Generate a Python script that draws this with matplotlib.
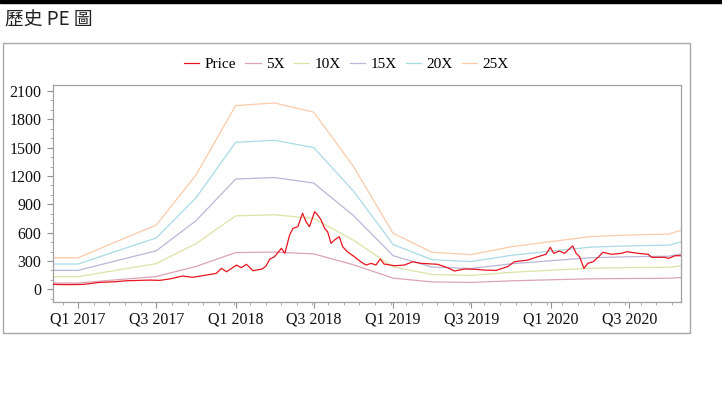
import numpy as np
import pandas as pd
import matplotlib
matplotlib.use("Agg")
import matplotlib.pyplot as plt
import matplotlib.dates as mdates
from matplotlib.ticker import AutoMinorLocator, FixedLocator
from matplotlib.patches import Rectangle

# Price
price_dates = [
    "2016-11-03", "2016-12-01", "2017-01-12", "2017-02-20", "2017-03-27",
    "2017-04-23", "2017-05-24", "2017-06-16", "2017-07-09", "2017-08-01",
    "2017-08-31", "2017-09-23", "2017-10-25", "2017-11-17", "2017-11-29",
    "2017-12-11", "2018-01-03", "2018-01-14", "2018-01-26", "2018-02-10",
    "2018-03-03", "2018-03-12", "2018-03-21", "2018-04-01", "2018-04-17",
    "2018-04-25", "2018-05-06", "2018-05-14", "2018-05-25", "2018-06-05",
    "2018-06-13", "2018-06-21", "2018-07-03", "2018-07-10", "2018-07-18",
    "2018-07-26", "2018-08-02", "2018-08-10", "2018-08-18", "2018-08-29",
    "2018-09-06", "2018-09-17", "2018-10-03", "2018-10-18", "2018-10-30",
    "2018-11-11", "2018-11-22", "2018-12-02", "2018-12-11", "2019-01-04",
    "2019-01-27", "2019-02-15", "2019-03-07", "2019-04-14", "2019-05-07",
    "2019-05-23", "2019-06-15", "2019-07-12", "2019-07-31", "2019-08-27",
    "2019-09-23", "2019-10-09", "2019-11-09", "2019-12-02", "2019-12-21",
    "2019-12-31", "2020-01-08", "2020-01-21", "2020-02-02", "2020-02-21",
    "2020-02-29", "2020-03-08", "2020-03-18", "2020-03-27", "2020-04-08",
    "2020-04-20", "2020-05-01", "2020-05-21", "2020-06-13", "2020-06-25",
    "2020-07-22", "2020-08-14", "2020-08-22", "2020-09-22", "2020-09-30",
    "2020-10-15", "2020-10-29",
]
price_values = [
    53, 50, 52, 74, 80,
    91, 95, 98, 95, 110,
    141, 127, 151, 169, 222,
    186, 257, 229, 265, 197,
    215, 245, 320, 345, 434,
    381, 575, 646, 663, 805,
    716, 663, 822, 787, 734,
    646, 610, 487, 522, 557,
    451, 398, 345, 292, 257,
    275, 257, 321, 268, 250,
    257, 292, 275, 265, 229,
    194, 215, 212, 204, 200,
    240, 292, 310, 345, 371,
    445, 381, 406, 381, 460,
    381, 345, 222, 275, 292,
    339, 392, 371, 381, 398,
    381, 371, 339, 339, 328,
    356, 356,
]

# quarterly EPS used for the PE bands
eps_dates = [
    "2016-11-03", "2017-01-01", "2017-04-01", "2017-07-01", "2017-10-01",
    "2018-01-01", "2018-04-01", "2018-07-01", "2018-10-01", "2019-01-01",
    "2019-04-01", "2019-07-01", "2019-10-01", "2020-01-01", "2020-04-01",
    "2020-07-01", "2020-10-01", "2020-10-29",
]
eps_values = [
    13.4, 13.4, 20.3, 27.2, 48.4,
    77.8, 78.9, 75.0, 52.0, 23.7,
    15.7, 14.7, 18.0, 20.2, 22.3,
    23.0, 23.4, 25.0,
]
multiples = [5, 10, 15, 20, 25]
band_colors = ["#dca3b8", "#dde2a6", "#b9b7d8", "#a9dbe7", "#fbcaa9"]

tick_dates = ["2017-01-01", "2017-07-01", "2018-01-01", "2018-07-01",
              "2019-01-01", "2019-07-01", "2020-01-01", "2020-07-01"]
tick_labels = ["Q1 2017", "Q3 2017", "Q1 2018", "Q3 2018",
               "Q1 2019", "Q3 2019", "Q1 2020", "Q3 2020"]
y_ticks = [0, 300, 600, 900, 1200, 1500, 1800, 2100]

serif = ["Liberation Serif", "DejaVu Serif"]

pd_price = pd.to_datetime(price_dates)
pd_eps = pd.to_datetime(eps_dates)
eps = np.array(eps_values)

fig = plt.figure(figsize=(7.22, 3.97), dpi=100)

# black bar on top and the title
fig.patches.append(Rectangle((0, 1 - 3.3 / 397), 1, 3.3 / 397,
                             transform=fig.transFigure, color="black", zorder=0))
fig.text(5 / 722, 1 - 20 / 397, "歷史 PE 圖", fontsize=13.5, va="center", ha="left",
         family=["Noto Sans CJK TC", "DejaVu Sans"], color="#222222")

# outer frame
fig.patches.append(Rectangle((3 / 722, 1 - 333 / 397), 687 / 722, 290 / 397,
                             transform=fig.transFigure, fill=False,
                             edgecolor="#a8a8a8", linewidth=1.0, zorder=0))

ax = fig.add_axes([52.7 / 722, 1 - 302 / 397, (681 - 52.7) / 722, (302 - 84.7) / 397])

ax.plot(pd_price, price_values, color="#e8141f", linewidth=0.9, label="Price", zorder=5)
for m, c in zip(multiples, band_colors):
    ax.plot(pd_eps, eps * m, color=c, linewidth=0.9, label=f"{m}X")

ax.set_xlim(pd.Timestamp("2016-11-03"), pd.Timestamp("2020-10-29"))
ax.set_ylim(-134, 2166)

ax.xaxis.set_major_locator(FixedLocator(mdates.date2num(pd.to_datetime(tick_dates))))
ax.set_xticklabels(tick_labels)
ax.xaxis.set_minor_locator(AutoMinorLocator(5))
ax.set_yticks(y_ticks)
ax.yaxis.set_minor_locator(AutoMinorLocator(3))

for lab in ax.get_xticklabels() + ax.get_yticklabels():
    lab.set_family(serif)
    lab.set_fontsize(11.5)
    lab.set_color("#111111")

ax.tick_params(which="major", direction="out", length=4, width=0.8, color="#909090")
ax.tick_params(which="minor", direction="out", length=2, width=0.6, color="#a0a0a0")
ax.tick_params(axis="x", pad=3)
ax.tick_params(axis="y", pad=4)

for s in ax.spines.values():
    s.set_color("#a0a0a0")
    s.set_linewidth(0.9)

handles, labels = ax.get_legend_handles_labels()
fig.legend(handles, labels, loc="center", bbox_to_anchor=(346.5 / 722, 1 - 64 / 397),
           ncol=6, frameon=False, prop={"family": serif, "size": 11},
           handlelength=1.0, handletextpad=0.35, columnspacing=0.6,
           borderaxespad=0)

fig.savefig("out.png", dpi=100)
